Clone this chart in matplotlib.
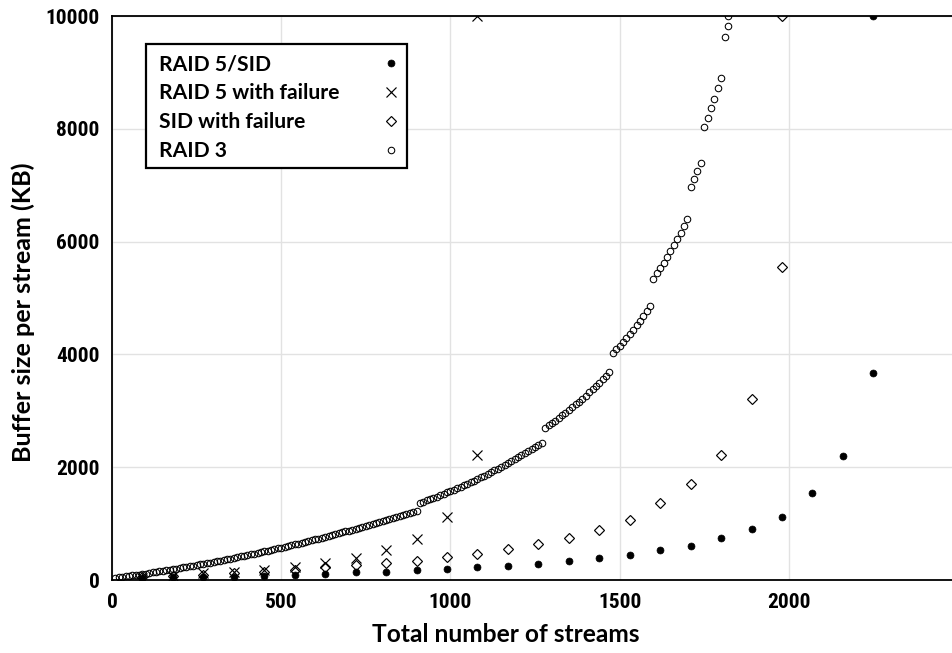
import matplotlib
matplotlib.use("Agg")
import matplotlib.pyplot as plt
from matplotlib import font_manager as fm
from matplotlib.patches import Rectangle

# ---------------- data ----------------
raid5_sid_x = [90, 180, 270, 360, 450, 540, 630, 720, 810, 900, 990, 1080, 1170,
               1260, 1350, 1440, 1530, 1620, 1710, 1800, 1890, 1980, 2070, 2160, 2250, 2250]
raid5_sid_y = [35, 47, 53, 59, 71, 92, 115, 138, 150, 177, 195, 222, 250,
               280, 342, 385, 440, 532, 603, 739, 904, 1112, 1537, 2199, 3676, 10000]

raid5_fail_x = [90, 180, 270, 360, 450, 540, 630, 720, 810, 900, 990, 1080, 1080]
raid5_fail_y = [40, 70, 118, 150, 183, 231, 300, 384, 532, 733, 1111, 2210, 10000]

sid_fail_x = [90, 180, 270, 360, 450, 540, 630, 720, 810, 900, 990, 1080, 1170,
              1260, 1350, 1440, 1530, 1620, 1710, 1800, 1890, 1980, 1980]
sid_fail_y = [45, 70, 95, 118, 148, 185, 225, 266, 300, 345, 408, 461, 544,
              633, 745, 881, 1058, 1365, 1708, 2216, 3204, 5556, 10000]

raid3_x = list(range(10, 1830, 10)) + [1820]
raid3_y = [
    # 10 .. 900
    38, 46, 54, 63, 71, 80, 88, 97, 106, 115,
    124, 134, 143, 153, 162, 172, 182, 192, 202, 212,
    223, 233, 244, 255, 265, 276, 287, 299, 310, 321,
    333, 345, 356, 368, 380, 393, 405, 417, 430, 442,
    455, 468, 481, 494, 507, 521, 534, 548, 561, 575,
    589, 603, 617, 631, 646, 660, 675, 690, 705, 720,
    735, 750, 765, 781, 796, 812, 828, 844, 860, 876,
    892, 909, 925, 942, 959, 976, 993, 1010, 1027, 1045,
    1062, 1080, 1097, 1115, 1133, 1151, 1170, 1188, 1206, 1225,
    # 910 .. 1270
    1370, 1391, 1412, 1434, 1457, 1480, 1503, 1527, 1552, 1576,
    1602, 1628, 1654, 1681, 1708, 1736, 1764, 1793, 1822, 1852,
    1882, 1913, 1944, 1976, 2008, 2041, 2074, 2108, 2142, 2176,
    2211, 2247, 2283, 2320, 2357, 2394, 2432,
    # 1280 .. 1470
    2700, 2741, 2783, 2827, 2871, 2917, 2964, 3012, 3062, 3112,
    3164, 3217, 3271, 3327, 3383, 3441, 3500, 3560, 3622, 3684,
    # 1480 .. 1590
    4030, 4092, 4156, 4222, 4291, 4363, 4438, 4516, 4597, 4682, 4771, 4865,
    # 1600 .. 1700
    5345, 5435, 5530, 5625, 5725, 5830, 5935, 6045, 6160, 6275, 6395,
    # 1710 .. 1740
    6975, 7115, 7255, 7400,
    # 1750 .. 1800
    8035, 8200, 8365, 8535, 8715, 8900,
    # 1810 .. 1820
    9635, 9830,
    # clipped at the top of the axis
    10000,
]

labels = ["RAID 5/SID", "RAID 5 with failure", "SID with failure", "RAID 3"]
x_ticks = [0, 500, 1000, 1500, 2000]
y_ticks = [0, 2000, 4000, 6000, 8000, 10000]

# ---------------- fonts ----------------
available = {f.name for f in fm.fontManager.ttflist}


def pick(*cands):
    for c in cands:
        if c in available:
            return c
    return "DejaVu Sans"


tick_font = pick("Liberation Sans Narrow", "Roboto Condensed", "Lato", "Liberation Sans")
label_font = pick("Lato", "Liberation Sans", "Roboto")
legend_font = pick("Lato", "Liberation Sans", "Roboto")

# ---------------- figure ----------------
W, H = 953, 653
fig = plt.figure(figsize=(W / 100, H / 100), dpi=100)
left, right, top, bottom = 112, 958, 16, 580
ax = fig.add_axes([left / W, (H - bottom) / H, (right - left) / W, (bottom - top) / H])

ax.plot(raid5_sid_x, raid5_sid_y, linestyle="none", marker="o", markersize=5.0,
        markerfacecolor="black", markeredgecolor="black", markeredgewidth=0.5,
        label=labels[0], zorder=3)
ax.plot(raid5_fail_x, raid5_fail_y, linestyle="none", marker="x", markersize=6.6,
        markeredgecolor="black", markeredgewidth=0.85, label=labels[1], zorder=3)
ax.plot(sid_fail_x, sid_fail_y, linestyle="none", marker="D", markersize=4.9,
        markerfacecolor="none", markeredgecolor="black", markeredgewidth=0.85,
        label=labels[2], zorder=3)
ax.plot(raid3_x, raid3_y, linestyle="none", marker="o", markersize=4.7,
        markerfacecolor="none", markeredgecolor="black", markeredgewidth=0.75,
        label=labels[3], zorder=3)

ax.set_xlim(0, 2500)
ax.set_ylim(0, 10000)
ax.set_xticks(x_ticks)
ax.set_yticks(y_ticks)
ax.grid(True, color="#e2e2e2", linewidth=1.0, zorder=0)
ax.set_axisbelow(True)
ax.tick_params(length=0, pad=9)
for lab in ax.get_xticklabels() + ax.get_yticklabels():
    lab.set_fontfamily(tick_font)
    lab.set_fontweight("bold")
    lab.set_fontsize(16)

for s in ("left", "bottom", "top"):
    ax.spines[s].set_linewidth(1.3)
    ax.spines[s].set_color("black")
    ax.spines[s].set_zorder(5)
ax.spines["right"].set_visible(False)

xl = ax.set_xlabel("Total number of streams", fontfamily=label_font, fontweight="bold",
                   fontsize=18, va="center", ha="center")
yl = ax.set_ylabel("Buffer size per stream (KB)", fontfamily=label_font, fontweight="bold",
                   fontsize=18, va="center", ha="center")
ax.xaxis.set_label_coords((506 - left) / (right - left), -(634 - bottom) / (bottom - top))
ax.yaxis.set_label_coords(-(left - 23) / (right - left), (bottom - 312) / (bottom - top))

fig.canvas.draw()
renderer = fig.canvas.get_renderer()


def fit(text, target, use_height=False):
    bb = text.get_window_extent(renderer)
    cur = bb.height if use_height else bb.width
    if cur > 0:
        text.set_fontsize(text.get_fontsize() * target / cur)


fit(xl, 267)
fit(yl, 300, use_height=True)
ytl = [t for t in ax.get_yticklabels() if t.get_text() == "10000"]
if ytl:
    bb = ytl[0].get_window_extent(renderer)
    if bb.width > 0:
        new = 16 * 54 / bb.width
        for lab in ax.get_xticklabels() + ax.get_yticklabels():
            lab.set_fontsize(new)

# ---------------- legend ----------------
fig.add_artist(Rectangle((146 / W, 1 - 168 / H), 261 / W, 124 / H,
                         transform=fig.transFigure, facecolor="white",
                         edgecolor="black", linewidth=1.6, zorder=2))

handles, _ = ax.get_legend_handles_labels()
leg_fs = 15.5
tmp = fig.text(0, 0, labels[1], fontfamily=legend_font, fontweight="bold", fontsize=leg_fs)
bb = tmp.get_window_extent(renderer)
leg_fs = leg_fs * 180 / bb.width
tmp.remove()
fs_px = leg_fs * 100 / 72
prop = fm.FontProperties(family=legend_font, weight="bold", size=leg_fs)
hl = 0.3
item_w = 391 + hl * fs_px / 2 - 159


def make_legend(ls, y_top):
    lg = fig.legend(handles, labels, loc="upper left",
                    bbox_to_anchor=(159 / W, 1 - y_top / H),
                    bbox_transform=fig.transFigure, borderaxespad=0, borderpad=0,
                    markerfirst=False, prop=prop, handlelength=hl,
                    handletextpad=1.0, labelspacing=ls, frameon=False, numpoints=1)
    lg.set_zorder(3)
    try:
        for col in lg._legend_handle_box.get_children():
            for item in col.get_children():
                item.mode = "expand"
                item.width = item_w
    except Exception:
        pass
    return lg


def handle_centers(lg):
    fig.canvas.draw()
    cs = []
    for h in lg.legend_handles:
        b = h.get_window_extent(renderer)
        cs.append(H - (b.y0 + b.y1) / 2)
    return cs


ls, y_top = 0.3, 50
leg = make_legend(ls, y_top)
cs = handle_centers(leg)
pitch = (cs[-1] - cs[0]) / 3
ls = ls + (28.8 - pitch) / fs_px
leg.remove()
leg = make_legend(ls, y_top)
cs = handle_centers(leg)
y_top = y_top + (63.3 - cs[0])
leg.remove()
leg = make_legend(ls, y_top)

fig.savefig("out.png", dpi=100)
